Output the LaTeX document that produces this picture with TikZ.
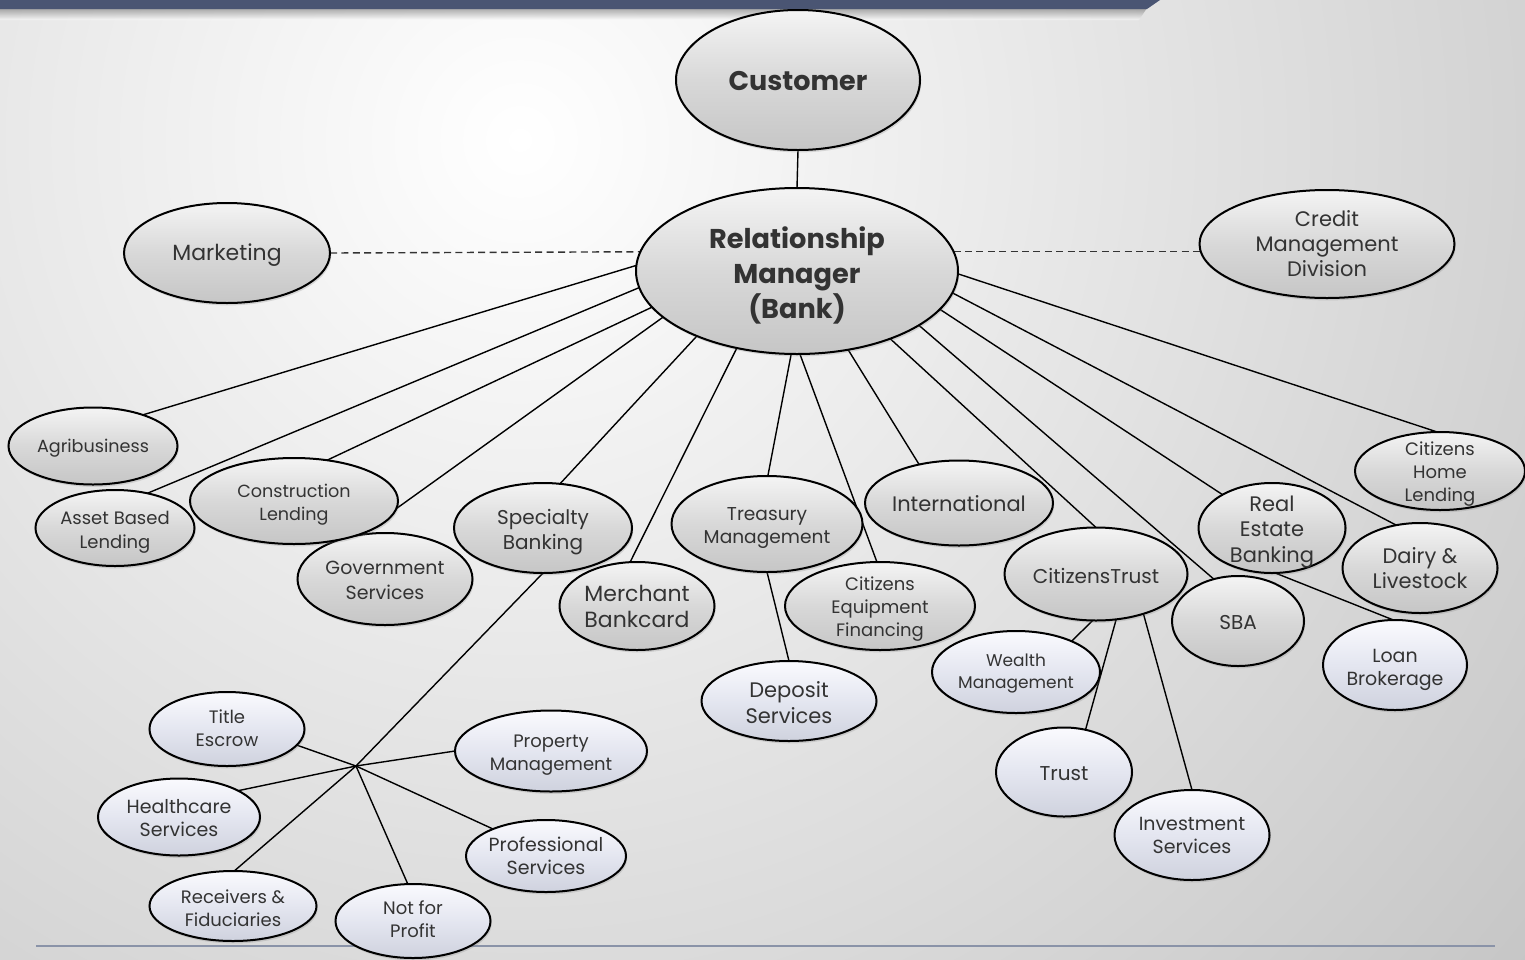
\documentclass[tikz,border=0pt]{standalone}
\usepackage{fontspec}
\setmainfont{Poppins}
\usetikzlibrary{shapes.geometric,shadows,calc}
\pgfdeclarelayer{back}
\pgfdeclarelayer{bg}
\pgfsetlayers{back,bg,main}
\definecolor{gtop}{HTML}{F4F4F4}
\definecolor{gmid}{HTML}{D8D8D8}
\definecolor{gbot}{HTML}{C6C6C6}
\definecolor{ltop}{HTML}{FAFAFE}
\definecolor{lmid}{HTML}{E4E6F0}
\definecolor{lbot}{HTML}{CFD2DE}
\definecolor{txtc}{HTML}{333333}
\definecolor{barblue}{HTML}{4A5573}
\definecolor{rulec}{HTML}{8A93A8}
\definecolor{bgout}{HTML}{C4C4C4}
\newcommand\fs[2]{\fontsize{#1pt}{#2pt}\selectfont}
\tikzset{
  bubble/.style={ellipse, draw=black, line width=1pt, inner sep=0pt, outer sep=0pt,
    top color=gtop, bottom color=gbot, middle color=gmid,
    drop shadow={opacity=0.25, shadow xshift=0.6pt, shadow yshift=-1.2pt}},
  lav/.style={top color=ltop, bottom color=lbot, middle color=lmid},
  btext/.style={align=center, inner sep=0pt, text=txtc},
  conn/.style={draw=black, line width=0.7pt},
  dashconn/.style={draw=black!80, line width=0.7pt, dash pattern=on 3.5pt off 2.2pt},
}
% name, x, y, w, h, extra style, font, text, text offset (px, downward)
\newcommand\bub[9]{%
  \node[bubble,#6,minimum width=#4*0.5pt,minimum height=#5*0.5pt] (#1) at (#2,#3) {};
  \node[btext,font=#7] (#1t) at ([yshift=-#9*0.5pt]#1.center) {#8};}
\begin{document}
\begin{tikzpicture}[x=0.5pt,y=-0.5pt]
\useasboundingbox (0,0) rectangle (1525,959);
\begin{pgfonlayer}{back}
  \clip (0,0) rectangle (1525,959);
  \fill[white] (0,0) rectangle (1525,959);
  \shade[inner color=white, outer color=bgout] (520,140) circle (1350);
  \shade[top color=black!55, bottom color=black!0, opacity=0.6] (0,8) -- (1147,8) -- (1139,20) -- (0,20) -- cycle;
  \fill[barblue] (0,0) -- (1160,0) -- (1147,9) -- (0,9) -- cycle;
\end{pgfonlayer}

% --- first-level nodes (lower ones first so overlaps match) ---
\bub{gov}{385}{579}{175}{92}{}{\fs{9.5}{12.5}}{Government\\Services}{1}
\bub{constr}{294}{501}{208}{86}{}{\fs{8.8}{11.5}}{Construction\\Lending}{4}
\bub{asset}{115}{528}{159}{76}{}{\fs{9}{12}}{Asset Based\\Lending}{4}
\bub{agri}{93}{446}{169}{77}{}{\fs{8.8}{11}}{Agribusiness}{2}
\bub{spec}{543}{528}{178}{90}{}{\fs{10}{12.5}}{Specialty\\Banking}{4}
\bub{merch}{637}{606}{155}{88}{}{\fs{11}{13}}{Merchant\\Bankcard}{0}
\bub{treas}{767}{524}{191}{96}{}{\fs{9.3}{11.5}}{Treasury\\Management}{4}
\bub{ceq}{880}{606}{190}{88}{}{\fs{9}{11.5}}{Citizens\\Equipment\\Financing}{3}
\bub{intl}{959}{503}{188}{85}{}{\fs{10.5}{12}}{International}{1}
\bub{ctrust}{1096}{574}{183}{93}{}{\fs{10}{12}}{CitizensTrust}{2}
\bub{sba}{1238}{621}{132}{90}{}{\fs{10}{12}}{SBA}{1}
\bub{reb}{1272}{528}{147}{90}{}{\fs{10.5}{12.8}}{Real\\Estate\\Banking}{4}
\bub{dairy}{1420}{568}{155}{90}{}{\fs{10.5}{12.5}}{Dairy \&\\Livestock}{0}
\bub{chl}{1440}{471}{170}{78}{}{\fs{9}{11.5}}{Citizens\\Home\\Lending}{3}

% --- second-level nodes ---
\bub{wealth}{1016}{672}{168}{82}{lav}{\fs{8.5}{11}}{Wealth\\Management}{1}
\bub{trust}{1064}{772}{136}{89}{lav}{\fs{10}{12}}{Trust}{2}
\bub{invest}{1192}{835}{155}{90}{lav}{\fs{9.5}{11.5}}{Investment\\Services}{0}
\bub{loan}{1395}{665}{144}{90}{lav}{\fs{9.5}{11.5}}{Loan\\Brokerage}{5}
\bub{dep}{789}{701}{175}{80}{lav}{\fs{10.5}{13}}{Deposit\\Services}{2}
\bub{title}{227}{729}{155}{74}{lav}{\fs{9}{11.5}}{Title\\Escrow}{-1}
\bub{prop}{551}{751}{192}{81}{lav}{\fs{9}{11.5}}{Property\\Management}{4}
\bub{health}{179}{817}{162}{77}{lav}{\fs{9.5}{11.5}}{Healthcare\\Services}{1}
\bub{prof}{546}{856}{160}{72}{lav}{\fs{9.5}{11.5}}{Professional\\Services}{0}
\bub{recv}{233}{906}{167}{70}{lav}{\fs{9}{11.5}}{Receivers \&\\Fiduciaries}{2}
\bub{nfp}{413}{921}{155}{74}{lav}{\fs{9}{11.5}}{Not for\\Profit}{-2}

% --- top nodes ---
\bub{mkt}{227}{253}{206}{100}{}{\fs{11}{12}}{Marketing}{2}
\bub{cred}{1327}{244}{255}{108}{}{\fs{10.5}{12.5}}{Credit\\Management\\Division}{0}
\bub{rm}{797}{271}{322}{166}{}{\fs{13.6}{17.5}\bfseries\color{black!90}}{Relationship\\Manager\\(Bank)}{4}
\bub{cust}{798}{80}{244}{140}{}{\fs{13.5}{16}\bfseries\color{black!90}}{Customer}{1}

\coordinate (hub) at (356,766);
\coordinate (ruleL) at (36,946);
\coordinate (ruleR) at (1495,946);

\begin{pgfonlayer}{bg}
  \draw[rulec, line width=0.9pt] (ruleL) -- (ruleR);
  \draw[conn] (cust.south) -- (rm.north);
  \draw[dashconn] (mkt.east) -- (rm.173);
  \draw[dashconn] (rm.7) -- (rm.7 -| cred.center);
  \draw[conn] (rm.178.2) -- (agri.32);
  \draw[conn] (rm.186) -- (asset.47);
  \draw[conn] (rm.194.7) -- (constr.51);
  \draw[conn] (rm.199.2) -- (gov.120);
  \draw[conn] (rm.213.3) -- (spec.69);
  \draw[conn] (rm.232.3) -- (merch.99);
  \draw[conn] (rm.266.6) -- (treas.89);
  \draw[conn] (rm.272) -- (ceq.94);
  \draw[conn] (rm.303.4) -- (intl.136);
  \draw[conn] (rm.324.6) -- (ctrust.90);
  \draw[conn] (rm.336.6) -- (sba.120);
  \draw[conn] (rm.345.1) -- (reb.146);
  \draw[conn] (rm.352.2) -- (dairy.119);
  \draw[conn] (rm.359.6) -- (chl.94);
  \draw[conn] (spec.270) -- (hub);
  \draw[conn] (hub) -- (title.-13);
  \draw[conn] (hub) -- (prop.180);
  \draw[conn] (hub) -- (health.24);
  \draw[conn] (hub) -- (prof.153);
  \draw[conn] (hub) -- (recv.88);
  \draw[conn] (hub) -- (nfp.98);
  \draw[conn] (treas.270) -- (dep.90);
  \draw[conn] (reb.274) -- (loan.92);
  \draw[conn] (ctrust.266) -- (wealth.29);
  \draw[conn] (ctrust.294.6) -- (trust.63);
  \draw[conn] (ctrust.320.4) -- (invest.90);
\end{pgfonlayer}
\end{tikzpicture}
\end{document}
